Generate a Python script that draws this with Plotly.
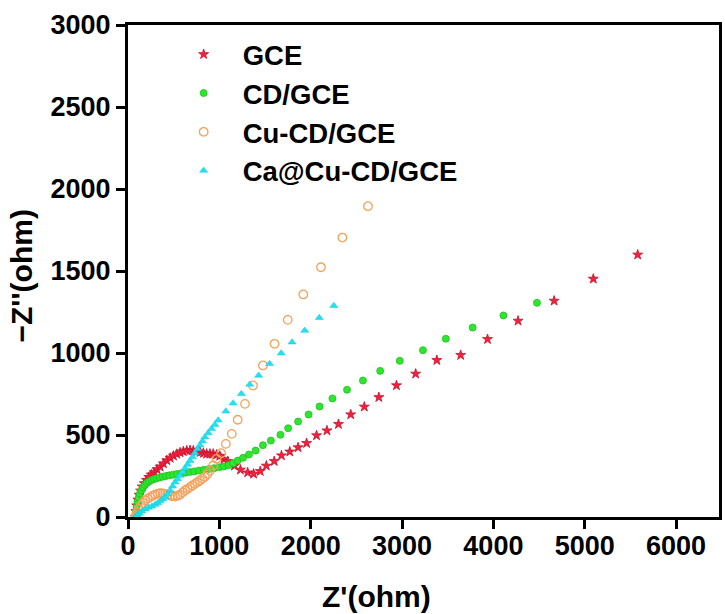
import plotly.graph_objects as go

# Nyquist data: real part Z' (ohm) and imaginary part -Z'' (ohm) for each electrode
gce_x = [80, 86, 95, 108, 122, 138, 156, 178, 202, 228, 256, 286, 318, 352, 388, 425, 462,
         498, 535, 570, 606, 643, 679, 715, 752, 788, 825, 861, 897, 933, 970, 1005, 1050,
         1092, 1165, 1231, 1310, 1375, 1448, 1514, 1601, 1680, 1771, 1862, 1955, 2064, 2178,
         2304, 2438, 2587, 2746, 2939, 3149, 3381, 3642, 3936, 4270, 4665, 5094, 5580]
gce_y = [0, 35, 70, 105, 135, 160, 185, 205, 225, 243, 258, 272, 290, 306, 326, 345, 360,
         373, 384, 393, 400, 405, 407, 405, 400, 395, 390, 385, 385, 385, 380, 372, 352,
         340, 312, 288, 271, 263, 279, 312, 340, 375, 398, 424, 450, 497, 527,
         566, 625, 672, 730, 802, 873, 956, 987, 1084, 1196, 1318, 1452, 1599]

cd_x = [80, 86, 94, 104, 116, 130, 146, 164, 184, 206, 230, 256, 284, 314, 346, 380, 416,
        454, 494, 536, 580, 626, 674, 724, 776, 830, 886, 944, 1000, 1049, 1100, 1150, 1201,
        1259, 1324, 1397, 1477, 1564, 1669, 1753, 1862, 1977, 2097, 2238, 2398, 2572, 2761,
        2975, 3229, 3479, 3773, 4110, 4477]
cd_y = [0, 30, 62, 92, 118, 142, 163, 180, 195, 207, 217, 225, 231, 236, 241, 246, 250,
        254, 258, 262, 266, 270, 274, 278, 283, 288, 293, 298, 303, 308, 316, 328, 344,
        361, 381, 405, 438, 466, 501, 541, 582, 625, 674, 723, 776, 832, 891,
        952, 1017, 1087, 1155, 1229, 1306]

cucd_x = [80, 90, 99, 118, 142, 165, 189, 216, 244, 271, 298, 326, 353, 380, 407, 434, 461,
          488, 516, 543, 570, 598, 625, 652, 679, 706, 733, 760, 788, 815, 842, 870, 897,
          933, 969, 1020, 1071, 1136, 1201, 1281, 1368, 1477, 1604, 1749, 1919, 2112, 2347, 2627]
cucd_y = [0, 15, 29, 50, 70, 86, 101, 112, 121, 130, 137, 142, 145, 144, 141, 136, 131,
          127, 125, 130, 137, 150, 162, 172, 182, 192, 202, 212, 223, 234, 245, 262, 284,
          314, 355, 389, 446, 507, 593, 690, 802, 924, 1056, 1202, 1357, 1523, 1704, 1895]

cacucd_x = [80, 99, 125, 153, 190, 226, 262, 298, 326, 353, 380, 407, 434, 461, 488, 516,
            543, 570, 598, 625, 652, 679, 706, 733, 760, 788, 815, 842, 878, 915, 951, 987,
            1071, 1150, 1241, 1332, 1430, 1550, 1677, 1796, 1934, 2094, 2253]
cacucd_y = [0, 9, 22, 35, 48, 58, 66, 76, 86, 97, 108, 121, 140, 162, 187, 212,
            232, 253, 275, 298, 320, 343, 366, 390, 414, 438, 462, 487, 512, 538, 563, 590,
            645, 694, 751, 808, 863, 934, 999, 1066, 1137, 1215, 1288]

x_ticks = [0, 1000, 2000, 3000, 4000, 5000, 6000]
y_ticks = [0, 500, 1000, 1500, 2000, 2500, 3000]

FONT = "Liberation Sans, Arial, sans-serif"

series = [
    ("GCE", gce_x, gce_y, dict(symbol="star", size=7.5, color="#F2223C",
                               line=dict(color="#C8102E", width=0.8))),
    ("CD/GCE", cd_x, cd_y, dict(symbol="circle", size=7, color="#2EE62E",
                                line=dict(color="#1FBF1F", width=0.8))),
    ("Cu-CD/GCE", cucd_x, cucd_y, dict(symbol="circle-open", size=8.5, color="#F4A15C",
                                        line=dict(color="#F4A15C", width=1.3))),
    ("Ca@Cu-CD/GCE", cacucd_x, cacucd_y, dict(symbol="triangle-up", size=7, color="#1FE3F2",
                                               line=dict(color="#12C8DA", width=0.5))),
]

fig = go.Figure()
for i, (name, xs, ys, mk) in enumerate(series):
    fig.add_trace(go.Scatter(x=xs, y=ys, mode="markers", name=name, marker=mk,
                             legendgroup=f"g{i}"))

axis_common = dict(
    showgrid=False, zeroline=False,
    showline=True, linecolor="black", linewidth=3, mirror=True,
    ticks="outside", ticklen=9, tickwidth=3, tickcolor="black",
    tickfont=dict(family=FONT, size=27, color="black", weight="bold"),
)

title_font = dict(family=FONT, size=30, color="black", weight="bold")

fig.update_layout(
    width=725, height=614,
    margin=dict(l=128, r=3, t=25, b=97),
    paper_bgcolor="white", plot_bgcolor="white",
    xaxis=dict(range=[0, 6470], tickvals=x_ticks, ticklabelstandoff=-6, **axis_common),
    yaxis=dict(range=[0, 3000], tickvals=y_ticks, **axis_common),
    legend=dict(x=0.062, y=0.99, xanchor="left", yanchor="top",
                bgcolor="rgba(0,0,0,0)", itemwidth=68, tracegroupgap=0,
                font=dict(family=FONT, size=27.5, color="black", weight="bold")),
    showlegend=True,
    annotations=[
        # axis titles
        dict(text="Z'(ohm)", xref="paper", yref="paper", x=0.42, y=-0.161,
             xanchor="center", yanchor="middle", showarrow=False, font=title_font),
        dict(text="\u2212Z''(ohm)", xref="paper", yref="paper", x=-0.18, y=0.49,
             xanchor="center", yanchor="middle", textangle=-90, showarrow=False,
             font=title_font),
    ],
)

fig.write_html("out.html")
